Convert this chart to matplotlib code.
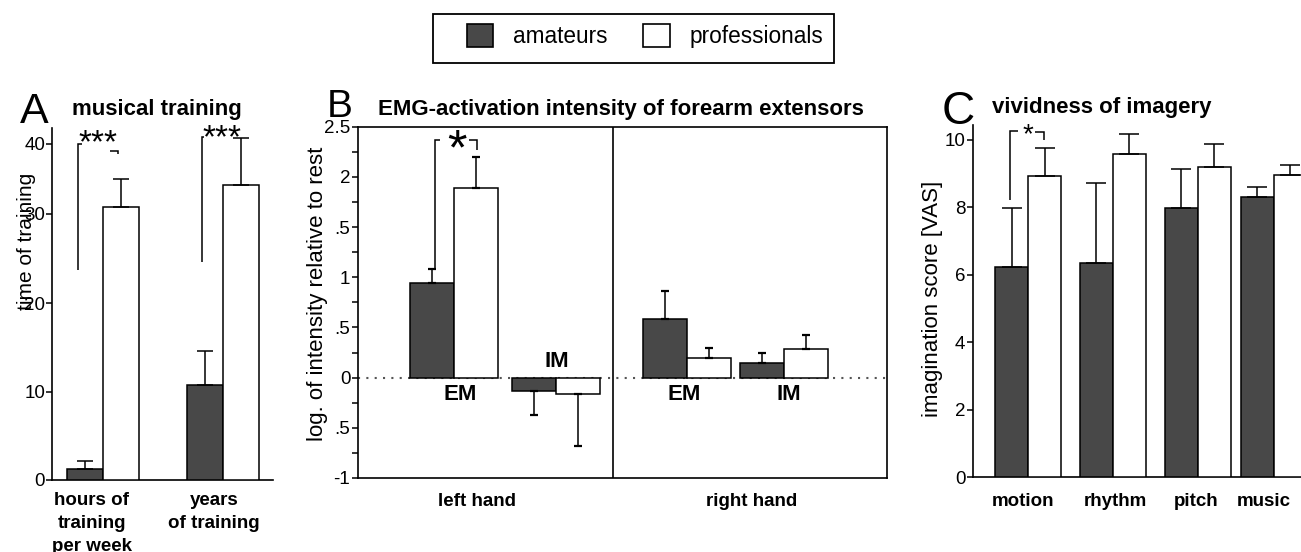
import numpy as np
import matplotlib
matplotlib.use('Agg')
import matplotlib.pyplot as plt
from matplotlib.patches import Patch, Rectangle

# ---------------- data ----------------
series_names = ['amateurs', 'professionals']

a_categories = ['hours of\ntraining\nper week', 'years\nof training']
a_amateurs = [1.2, 10.75]
a_amateurs_err = [1.0, 3.85]
a_professionals = [31.0, 34.2]
a_professionals_err = [4.0, 6.6]
a_yticks = [0, 10, 20, 30, 40]

b_muscles = ['EM', 'IM', 'EM', 'IM']
b_hands = ['left hand', 'right hand']
b_amateurs = [0.94, -0.13, 0.585, 0.15]
b_amateurs_err = [0.14, 0.24, 0.275, 0.10]
b_professionals = [1.89, -0.16, 0.20, 0.29]
b_professionals_err = [0.31, 0.52, 0.10, 0.135]
b_yticks = [-1, -0.5, 0, 0.5, 1, 1.5, 2, 2.5]
b_yticklabels = ['-1', '.5', '0', '.5', '1', '.5', '2', '2.5']

c_categories = ['motion', 'rhythm', 'pitch', 'music']
c_amateurs = [6.23, 6.34, 7.99, 8.32]
c_amateurs_err = [1.76, 2.39, 1.15, 0.28]
c_professionals = [8.93, 9.58, 9.21, 8.96]
c_professionals_err = [0.82, 0.59, 0.67, 0.28]
c_yticks = [0, 2, 4, 6, 8, 10]

# ---------------- style ----------------
plt.rcParams['font.family'] = ['Liberation Sans', 'DejaVu Sans']
DARK = '#484848'
EDGE_LW = 1.1
TICK_FS = 13.5
XLAB_FS = 13.5
TITLE_FS = 16

W, H = 1301, 552
fig = plt.figure(figsize=(W / 100, H / 100), dpi=100)


def axes_px(l, t, r, b):
    return fig.add_axes([l / W, 1 - b / H, (r - l) / W, (b - t) / H])


def updown(vals, errs):
    v = np.asarray(vals, float)
    e = np.asarray(errs, float)
    return np.vstack([np.where(v < 0, e, 0.0), np.where(v < 0, 0.0, e)])


def draw_pairs(ax, centers, am, am_err, pr, pr_err, width, capsize, capthick):
    c = np.asarray(centers, float)
    xa, xp = c - width / 2, c + width / 2
    ax.bar(xa, am, width, color=DARK, edgecolor='black', linewidth=EDGE_LW, zorder=3)
    ax.bar(xp, pr, width, color='white', edgecolor='black', linewidth=EDGE_LW, zorder=3)
    for x, v, e in ((xa, am, am_err), (xp, pr, pr_err)):
        ax.errorbar(x, v, yerr=updown(v, e), fmt='none', ecolor='black',
                    elinewidth=1.1, capsize=capsize, capthick=capthick, zorder=4)


def bracket(ax, pts):
    xs, ys = zip(*pts)
    ax.plot(xs, ys, color='black', lw=1.1, clip_on=False, zorder=5,
            solid_capstyle='butt', solid_joinstyle='miter')


# ======================= Panel A =======================
axA = axes_px(52, 128, 273, 480)
# the published axis prints its ticks at uneven heights (pixels above zero)
A_PX = np.array([0, 88.3, 177, 266, 336])
A_VAL = np.array(a_yticks, float)


def _pw(x, xs, ys):
    x = np.asarray(x, float)
    y = np.interp(x, xs, ys)
    s_hi = (ys[-1] - ys[-2]) / (xs[-1] - xs[-2])
    s_lo = (ys[1] - ys[0]) / (xs[1] - xs[0])
    y = np.where(x > xs[-1], ys[-1] + (x - xs[-1]) * s_hi, y)
    y = np.where(x < xs[0], ys[0] + (x - xs[0]) * s_lo, y)
    return y


axA.set_yscale('function', functions=(lambda v: _pw(v, A_VAL, A_PX),
                                      lambda p: _pw(p, A_PX, A_VAL)))
axA.set_xlim(0, 5.97)
axA.set_ylim(0, float(_pw(352, A_PX, A_VAL)))
a_centers = [1.38, 4.62]
draw_pairs(axA, a_centers, a_amateurs, a_amateurs_err, a_professionals,
           a_professionals_err, 0.98, 6, 1.1)
axA.set_yticks(a_yticks)
axA.yaxis.set_minor_locator(matplotlib.ticker.NullLocator())
axA.set_xticks([1.08, 4.38], a_categories, fontweight='bold', fontsize=XLAB_FS,
               linespacing=1.45)
axA.tick_params(axis='x', length=0, pad=8.5)
axA.tick_params(axis='y', direction='out', length=4, width=1.1, pad=1, labelsize=TICK_FS)
for s in ('top', 'right'):
    axA.spines[s].set_visible(False)
for s in ('left', 'bottom'):
    axA.spines[s].set_linewidth(1.2)
axA.set_ylabel('time of training', fontsize=15, va='center', ha='center')
axA.yaxis.set_label_coords(-0.115, 0.679)
axA.set_title('musical training', loc='left', x=0.0905, y=1.037, pad=0,
              fontweight='bold', fontsize=TITLE_FS)
axA.text(-0.145, 1.014, 'A', transform=axA.transAxes, fontsize=31,
         ha='left', va='baseline')
# significance brackets
bracket(axA, [(0.70, 23.7), (0.70, 40.0), (0.81, 40.0)])
bracket(axA, [(1.57, 39.0), (1.78, 39.0), (1.78, 38.6)])
axA.text(1.24, 38.8, '***', fontsize=24, ha='center', va='baseline', clip_on=False)
bracket(axA, [(4.05, 24.6), (4.05, 41.0), (4.11, 41.0)])
axA.text(4.59, 39.6, '***', fontsize=24, ha='center', va='baseline', clip_on=False)

# ======================= Panel B =======================
axB = axes_px(358, 126.7, 887, 478)
axB.set_xlim(0, 12.02)
axB.set_ylim(-1, 2.5)
b_centers = [2.19, 4.49, 7.47, 9.69]
axB.axhline(0, color='#555555', lw=1.5, ls=(0, (1, 3)), zorder=1)
draw_pairs(axB, b_centers, b_amateurs, b_amateurs_err, b_professionals,
           b_professionals_err, 1.0, 2.6, 1.6)
axB.axvline(5.8, color='black', lw=1.2, zorder=2)
axB.set_yticks(b_yticks, b_yticklabels)
axB.set_yticks(np.arange(-0.75, 2.5, 0.5), minor=True)
axB.tick_params(axis='y', which='both', direction='out', length=4, width=1.1,
                pad=1.5, labelsize=TICK_FS)
axB.set_xticks([2.70, 8.95], b_hands, fontweight='bold', fontsize=XLAB_FS)
axB.tick_params(axis='x', length=0, pad=11)
for s in axB.spines.values():
    s.set_linewidth(1.2)
label_x = [2.32, 4.51, 7.42, 9.80]
label_y = [-0.17, 0.16, -0.17, -0.17]
for x, y, t in zip(label_x, label_y, b_muscles):
    axB.text(x, y, t, fontsize=16, fontweight='bold', ha='center', va='center')
axB.set_ylabel('log. of intensity relative to rest', fontsize=16, va='center', ha='center')
axB.yaxis.set_label_coords(-0.0775, 0.524)
axB.set_title('EMG-activation intensity of forearm extensors', loc='left',
              x=0.0378, y=1.0333, pad=0, fontweight='bold', fontsize=TITLE_FS)
axB.text(-0.0586, 1.0268, 'B', transform=axB.transAxes, fontsize=28,
         ha='left', va='baseline')
bracket(axB, [(1.75, 1.07), (1.75, 2.37), (1.86, 2.37)])
bracket(axB, [(2.53, 2.37), (2.70, 2.37), (2.70, 2.27)])
axB.text(2.24, 2.12, '*', fontsize=36, ha='center', va='baseline', clip_on=False)

# ======================= Panel C =======================
axC = axes_px(973, 125, 1340, 477.3)
axC.set_xlim(0, 367 / 33)
axC.set_ylim(0, 10.44)
c_centers = [1.68, 4.23, 6.81, 9.12]
draw_pairs(axC, c_centers, c_amateurs, c_amateurs_err, c_professionals,
           c_professionals_err, 1.0, 7, 1.1)
axC.set_yticks(c_yticks)
axC.tick_params(axis='y', direction='out', length=4, width=1.1, pad=1.5, labelsize=TICK_FS)
axC.set_xticks([1.52, 4.30, 6.76, 8.82], c_categories, fontweight='bold', fontsize=XLAB_FS)
axC.tick_params(axis='x', length=0, pad=11)
for s in ('top', 'right'):
    axC.spines[s].set_visible(False)
for s in ('left', 'bottom'):
    axC.spines[s].set_linewidth(1.2)
axC.set_ylabel('imagination score [VAS]', fontsize=16, va='center', ha='center')
axC.yaxis.set_label_coords(-0.109, 0.5075)
axC.set_title('vividness of imagery', loc='left', x=0.051, y=1.033, pad=0,
              fontweight='bold', fontsize=TITLE_FS)
axC.text(-0.0845, 1.003, 'C', transform=axC.transAxes, fontsize=33,
         ha='left', va='baseline')
bracket(axC, [(1.12, 8.22), (1.12, 10.25), (1.36, 10.25)])
bracket(axC, [(1.88, 10.22), (2.15, 10.22), (2.15, 10.0)])
axC.text(1.67, 9.92, '*', fontsize=20, ha='center', va='baseline', clip_on=False)

# ======================= Legend =======================
handles = [Patch(facecolor=DARK, edgecolor='black', linewidth=1.2),
           Patch(facecolor='white', edgecolor='black', linewidth=1.2)]
fig.legend(handles, series_names, loc='center left',
           bbox_to_anchor=(466.7 / W, 1 - 36 / H), ncol=2, frameon=False,
           fontsize=16.3, borderpad=0, borderaxespad=0, handlelength=1.15,
           handleheight=1.15, handletextpad=0.885, columnspacing=1.6)
fig.patches.append(Rectangle((433 / W, 1 - 62.7 / H), (834 - 433) / W, (62.7 - 14) / H,
                             transform=fig.transFigure, fill=False, lw=1.3,
                             edgecolor='black'))

fig.savefig('out.png', dpi=100)
